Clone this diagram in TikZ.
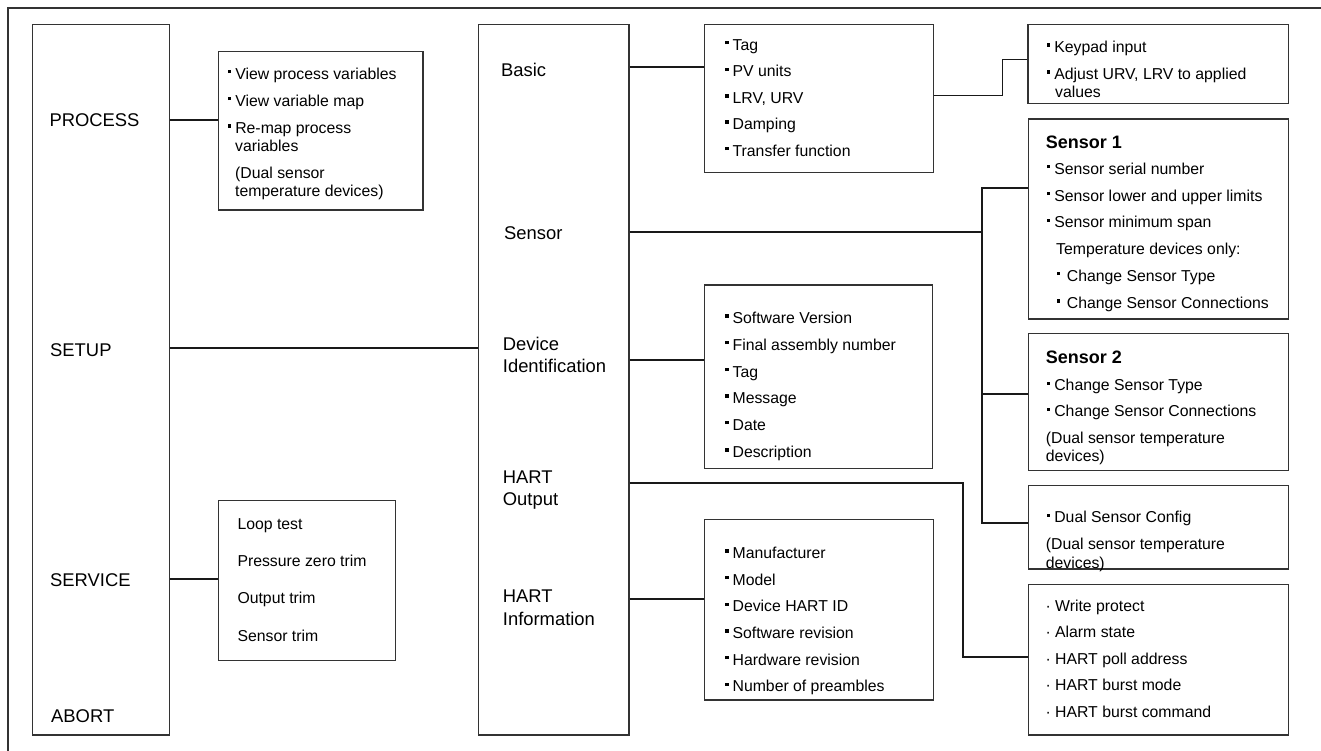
\documentclass[tikz,border=0pt]{standalone}
\usepackage{fontspec}
\setmainfont{Liberation Sans}
\usetikzlibrary{fit}
\newcommand\bul{\rule[5.8pt]{3.3pt}{3.3pt}\hspace{4.1pt}}
\newcommand\bulw{\rule[5.8pt]{3.3pt}{3.3pt}\hspace{6.7pt}}
\newcommand\itemline[4]{\node[txt] (#1) at (#2,#3) {#4};}
\newcommand\bigline[4]{\node[bigtxt] (#1) at (#2,#3) {#4};}
\newcommand\mkbox[5]{\node[boxst, fit={(#2,#3) (#4,#5)}] (#1) {};}
\begin{document}
\begin{tikzpicture}[x=1pt,y=-1pt,
  txt/.style={anchor=base west, inner sep=0pt, text=black, font=\fontsize{15.8}{18}\selectfont},
  bigtxt/.style={anchor=base west, inner sep=0pt, text=black, font=\fontsize{18.4}{21}\selectfont},
  titletxt/.style={anchor=base west, inner sep=0pt, text=black, font=\bfseries\fontsize{18}{21}\selectfont},
  boxst/.style={draw=black!80, line width=1.2pt, inner sep=0pt},
  conn/.style={draw=black!90, line width=2.2pt},
  thinconn/.style={draw=black!90, line width=1.4pt},
  frame/.style={draw=black!80, line width=1.3pt}]
\useasboundingbox (0,0) rectangle (1321,750);
% outer frame (only top and left edges visible)
\coordinate (fbl) at (8,752);
\coordinate (ftl) at (8,8);
\coordinate (ftr) at (1323,8);
\draw[frame] (fbl) -- (ftl) -- (ftr);

% boxes
\mkbox{lc}{32.7}{24.7}{169.7}{735}
\mkbox{pbox}{218.3}{51.7}{423}{210}
\mkbox{sbox}{218.3}{500.3}{395.7}{660.3}
\mkbox{mc}{478.3}{24.7}{629}{735}
\mkbox{bbox}{704.3}{24.7}{933.3}{172.3}
\mkbox{dbox}{704.3}{285}{932.3}{468.3}
\mkbox{hbox}{704.3}{519.7}{933.3}{700}
\mkbox{kbox}{1028}{24.7}{1288.3}{103.3}
\mkbox{sone}{1028.3}{119}{1288.3}{319}
\mkbox{stwo}{1028.3}{333.3}{1288.3}{470.7}
\mkbox{dubox}{1028.3}{485.3}{1288.3}{569}
\mkbox{obox}{1028.3}{584.3}{1288.3}{735}

% left column labels
\bigline{tproc}{49.3}{126.7}{PROCESS}
\bigline{tsetup}{50}{356.7}{SETUP}
\bigline{tserv}{50}{586.7}{SERVICE}
\bigline{tabort}{51}{722.3}{ABORT}

% process box
\itemline{p1}{227.7}{79}{\bul View process variables}
\itemline{p2}{227.7}{106}{\bul View variable map}
\itemline{p3}{227.7}{133.3}{\bul Re-map process}
\itemline{p4}{235}{151}{variables}
\itemline{p5}{235}{178}{(Dual sensor}
\itemline{p6}{235}{196.5}{temperature devices)}

% service box
\itemline{s1}{237.3}{529.3}{Loop test}
\itemline{s2}{237.3}{566.7}{Pressure zero trim}
\itemline{s3}{237.3}{603.3}{Output trim}
\itemline{s4}{237.3}{641}{Sensor trim}

% middle column labels
\bigline{tbasic}{501}{76}{Basic}
\bigline{tsensor}{504}{239}{Sensor}
\bigline{tdev}{502.7}{350}{Device}
\bigline{tident}{502.7}{372.3}{Identification}
\bigline{thart}{502.7}{483.3}{HART}
\bigline{toutput}{502.7}{505}{Output}
\bigline{thartb}{502.7}{602.3}{HART}
\bigline{tinfo}{502.7}{625.7}{Information}

% basic box
\itemline{b1}{725}{50}{\bul Tag}
\itemline{b2}{725}{76.7}{\bul PV units}
\itemline{b3}{725}{103.3}{\bul LRV, URV}
\itemline{b4}{725}{129.3}{\bul Damping}
\itemline{b5}{725}{156}{\bul Transfer function}

% device identification box
\itemline{d1}{725}{323.3}{\bul Software Version}
\itemline{d2}{725}{350}{\bul Final assembly number}
\itemline{d3}{725}{377}{\bul Tag}
\itemline{d4}{725}{403.3}{\bul Message}
\itemline{d5}{725}{430}{\bul Date}
\itemline{d6}{725}{457.3}{\bul Description}

% hart information box
\itemline{h1}{725}{558.3}{\bul Manufacturer}
\itemline{h2}{725}{585}{\bul Model}
\itemline{h3}{725}{611.7}{\bul Device HART ID}
\itemline{h4}{725}{638.3}{\bul Software revision}
\itemline{h5}{725}{665}{\bul Hardware revision}
\itemline{h6}{725}{691.7}{\bul Number of preambles}

% keypad box
\itemline{k1}{1046.7}{52.3}{\bul Keypad input}
\itemline{k2}{1046.7}{79.3}{\bul Adjust URV, LRV to applied}
\itemline{k3}{1055}{97.7}{values}

% sensor 1 box
\node[titletxt] (sonet) at (1045.7,148.3) {Sensor 1};
\itemline{a1}{1046.7}{174}{\bul Sensor serial number}
\itemline{a2}{1046.7}{201}{\bul Sensor lower and upper limits}
\itemline{a3}{1046.7}{227.7}{\bul Sensor minimum span}
\itemline{a4}{1056}{254}{Temperature devices only:}
\itemline{a5}{1056.7}{281}{\bulw Change Sensor Type}
\itemline{a6}{1056.7}{308.3}{\bulw Change Sensor Connections}

% sensor 2 box
\node[titletxt] (stwot) at (1045.7,363.3) {Sensor 2};
\itemline{c1}{1046.7}{390.7}{\bul Change Sensor Type}
\itemline{c2}{1046.7}{416.7}{\bul Change Sensor Connections}
\itemline{c3}{1045.7}{443.3}{(Dual sensor temperature}
\itemline{c4}{1045.7}{461.7}{devices)}

% dual sensor config box
\itemline{e1}{1046.7}{522.7}{\bul Dual Sensor Config}
\itemline{e2}{1045.7}{549.3}{(Dual sensor temperature}
\itemline{e3}{1045.7}{568.3}{devices)}

% hart output box
\itemline{o1}{1045.3}{611.3}{· Write protect}
\itemline{o2}{1045.3}{637.3}{· Alarm state}
\itemline{o3}{1045.3}{664}{· HART poll address}
\itemline{o4}{1045.3}{690.7}{· HART burst mode}
\itemline{o5}{1045.3}{717.3}{· HART burst command}

% connector levels
\coordinate (yproc) at (0,120);
\coordinate (ysetup) at (0,348.3);
\coordinate (yserv) at (0,579);
\coordinate (ybasic) at (0,67);
\coordinate (ysen) at (0,232.3);
\coordinate (ydev) at (0,360);
\coordinate (yho) at (0,483.3);
\coordinate (yhob) at (0,656.7);
\coordinate (yhi) at (0,599);
\coordinate (yka) at (0,95.7);
\coordinate (ykb) at (0,59.7);
\coordinate (kx) at (1002.3,0);
\coordinate (bus) at (981.7,0);
\coordinate (ysa) at (0,187.7);
\coordinate (ysb) at (0,394.3);
\coordinate (ydu) at (0,523.3);
\coordinate (hx) at (963.3,0);

% connectors
\draw[conn] (lc.east |- yproc) -- (pbox.west |- yproc);
\draw[conn] (lc.east |- ysetup) -- (mc.west |- ysetup);
\draw[conn] (lc.east |- yserv) -- (sbox.west |- yserv);
\draw[conn] (mc.east |- ybasic) -- (bbox.west |- ybasic);
\draw[thinconn] (bbox.east |- yka) -- (kx |- yka) -- (kx |- ykb) -- (kbox.west |- ykb);
\draw[conn] (mc.east |- ysen) -- (bus |- ysen);
\draw[conn] (sone.west |- ysa) -- (bus |- ysa) -- (bus |- ydu) -- (dubox.west |- ydu);
\draw[conn] (bus |- ysb) -- (stwo.west |- ysb);
\draw[conn] (mc.east |- ydev) -- (dbox.west |- ydev);
\draw[conn] (mc.east |- yho) -- (hx |- yho) -- (hx |- yhob) -- (obox.west |- yhob);
\draw[conn] (mc.east |- yhi) -- (hbox.west |- yhi);
\end{tikzpicture}
\end{document}
